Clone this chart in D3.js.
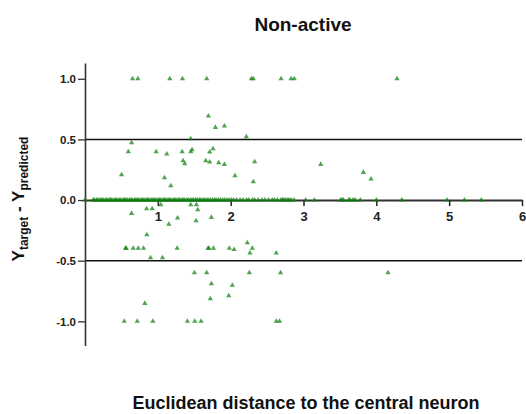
<!DOCTYPE html>
<html>
<head>
<meta charset="utf-8">
<script src="https://cdn.jsdelivr.net/npm/d3@7"></script>
<style>
  html, body { margin: 0; padding: 0; background: #fff; }
  svg { display: block; font-family: "Liberation Sans", Arial, sans-serif; }
</style>
</head>
<body>
<svg id="chart" width="526" height="414"></svg>
<script>
// ---- data ----
const title = "Non-active";
const xLabel = "Euclidean distance to the central neuron";
const xTicks = [1, 2, 3, 4, 5, 6];
const yTicks = [-1.0, -0.5, 0.0, 0.5, 1.0];
const yTickLabels = ["-1.0", "-0.5", "0.0", "0.5", "1.0"];
const refLines = [-0.5, 0.5];

// points with non-zero residual: [distance, residual]
const offPoints = [
  [0.653, 1.0], [0.726, 1.0], [1.164, 1.0], [1.338, 1.0], [1.671, 1.0],
  [2.284, 1.0], [2.311, 1.0], [2.692, 1.0], [2.829, 1.0], [2.873, 1.0], [4.284, 1.0],
  [1.694, 0.693], [1.790, 0.599], [1.914, 0.610], [0.640, 0.473], [1.452, 0.505],
  [2.215, 0.522], [0.594, 0.398], [0.977, 0.398], [1.123, 0.379], [1.333, 0.398],
  [1.452, 0.398], [1.470, 0.415], [1.712, 0.396], [1.758, 0.423], [1.347, 0.324],
  [1.370, 0.299], [1.658, 0.324], [1.712, 0.313], [1.836, 0.308], [1.914, 0.294],
  [2.329, 0.316], [0.502, 0.209], [1.091, 0.184], [1.178, 0.118], [2.059, 0.200],
  [2.311, 0.151], [3.237, 0.294], [3.822, 0.228], [3.927, 0.173],
  [0.845, -0.072], [0.922, -0.072], [1.041, -0.039], [1.452, -0.039], [1.530, -0.039],
  [1.548, -0.080], [0.640, -0.110], [1.270, -0.148], [1.151, -0.200], [1.525, -0.171],
  [1.735, -0.143], [0.849, -0.286],
  [0.556, -0.398], [0.566, -0.398], [0.662, -0.398], [0.731, -0.398], [0.804, -0.398],
  [0.900, -0.475], [1.064, -0.475], [1.265, -0.398], [1.690, -0.398], [1.700, -0.398],
  [1.763, -0.398], [1.982, -0.398], [2.046, -0.407], [2.228, -0.352], [2.297, -0.398],
  [2.265, -0.437], [2.626, -0.437],
  [1.502, -0.599], [1.671, -0.599], [2.256, -0.599], [2.685, -0.599], [4.160, -0.599],
  [1.735, -0.690], [2.023, -0.703], [1.721, -0.814], [1.973, -0.789], [0.822, -0.852],
  [0.539, -1.0], [0.717, -1.0], [0.932, -1.0], [1.406, -1.0], [1.507, -1.0],
  [1.594, -1.0], [2.626, -1.0], [2.671, -1.0]
];

// distances of points with zero residual
const zeroDistances = [
  0.00,
  0.11, 0.13, 0.16, 0.18, 0.21, 0.23, 0.25, 0.28, 0.30, 0.33, 0.35, 0.37, 0.40, 0.42,
  0.44, 0.47, 0.49, 0.52, 0.54, 0.56, 0.58, 0.61, 0.63, 0.65, 0.68, 0.70, 0.72, 0.74,
  0.77, 0.79, 0.81, 0.84, 0.86, 0.88, 0.91, 0.93, 0.95, 0.97, 1.00, 1.02, 1.04, 1.07,
  1.09, 1.11, 1.14, 1.16, 1.18, 1.21, 1.23, 1.25, 1.28, 1.30, 1.33, 1.35, 1.37, 1.40,
  1.42, 1.45, 1.47, 1.49, 1.52, 1.54, 1.57, 1.59, 1.62, 1.64, 1.67, 1.69, 1.72, 1.75,
  1.78, 1.80, 1.83, 1.86, 1.89, 1.92, 1.95, 1.98, 2.01, 2.04,
  2.08, 2.13, 2.17, 2.22, 2.25, 2.30, 2.33, 2.38, 2.43, 2.47, 2.52, 2.57, 2.60, 2.64,
  2.69, 2.71, 2.73, 2.75, 2.78, 2.80, 2.83, 2.87,
  3.03, 3.15, 3.51, 3.53, 3.55, 3.62, 3.64, 3.68, 3.71, 3.78, 4.00, 4.35, 4.97, 5.21, 5.44
];

// ---- chart ----
const svg = d3.select("#chart");
const x = d3.scaleLinear().domain([0, 6]).range([85, 522]);
const y = d3.scaleLinear().domain([-1.2, 1.13]).range([345.6, 63]);

const points = offPoints.map(d => ({x: d[0], y: d[1]}))
  .concat(zeroDistances.map(d => ({x: d, y: 0})));

// reference lines at +/-0.5
svg.append("g").selectAll("line").data(refLines).join("line")
  .attr("x1", x(0)).attr("x2", x(6))
  .attr("y1", d => y(d)).attr("y2", d => y(d))
  .attr("stroke", "#111").attr("stroke-width", 1.5);

// y axis
const yAxis = svg.append("g")
  .attr("transform", `translate(${x(0)},0)`)
  .call(d3.axisLeft(y).tickValues(yTicks).tickSize(7).tickSizeOuter(0).tickPadding(2)
    .tickFormat((d, i) => yTickLabels[i]));
yAxis.select(".domain").attr("stroke", "#333").attr("stroke-width", 1.6);
yAxis.selectAll(".tick line").attr("stroke", "#333").attr("stroke-width", 1.3);
yAxis.selectAll(".tick text").attr("font-size", 11.5).attr("font-weight", "bold")
  .attr("fill", "#222").attr("font-family", "Liberation Sans, Arial, sans-serif");

// x axis at y = 0
const xAxis = svg.append("g")
  .attr("transform", `translate(0,${y(0)})`)
  .call(d3.axisBottom(x).tickValues(xTicks).tickSize(6).tickSizeOuter(0).tickPadding(6)
    .tickFormat(d3.format("d")));
xAxis.select(".domain").attr("stroke", "#333").attr("stroke-width", 2);
xAxis.selectAll(".tick line").attr("stroke", "#222").attr("stroke-width", 1.5);
xAxis.selectAll(".tick text").attr("font-size", 13).attr("font-weight", "bold")
  .attr("fill", "#222").attr("font-family", "Liberation Sans, Arial, sans-serif");

// points
const tri = d3.symbol().type(d3.symbolTriangle).size(12);
svg.append("g").selectAll("path").data(points).join("path")
  .attr("d", tri)
  .attr("transform", d => `translate(${x(d.x)},${y(d.y)})`)
  .attr("fill", "#0d7f0d")
  .attr("fill-opacity", 0.72);

// title
svg.append("text")
  .attr("x", 303).attr("y", 31)
  .attr("text-anchor", "middle")
  .attr("font-size", 19).attr("font-weight", "bold").attr("fill", "#111")
  .text(title);

// x label
svg.append("text")
  .attr("x", 306).attr("y", 409)
  .attr("text-anchor", "middle")
  .attr("font-size", 18).attr("font-weight", "bold").attr("fill", "#111")
  .text(xLabel);

// y label with subscripts
const yl = svg.append("text")
  .attr("transform", "translate(24,199) rotate(-90)")
  .attr("text-anchor", "middle")
  .attr("font-weight", "bold").attr("fill", "#111");
yl.append("tspan").attr("font-size", 17).text("Y");
yl.append("tspan").attr("font-size", 12).attr("dy", 4).text("target");
yl.append("tspan").attr("font-size", 17).attr("dy", -4).text(" - Y");
yl.append("tspan").attr("font-size", 12).attr("dy", 4).text("predicted");
</script>
</body>
</html>
